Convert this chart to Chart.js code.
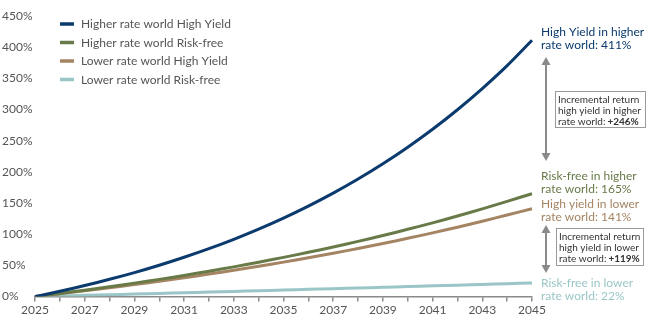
<!DOCTYPE html>
<html>
<head>
<meta charset="utf-8">
<script src="https://cdn.jsdelivr.net/npm/chart.js@4/dist/chart.umd.min.js"></script>
<style>
  html, body { margin: 0; padding: 0; background: #fff; }
  #wrap { width: 650px; height: 324px; }
</style>
</head>
<body>
<div id="wrap"><canvas id="myChart" width="650" height="324"></canvas></div>
<script>
const years = ['2025','2026','2027','2028','2029','2030','2031','2032','2033','2034','2035',
               '2036','2037','2038','2039','2040','2041','2042','2043','2044','2045']
const highYieldHigher = [0, 8.5, 17.7, 27.7, 38.5, 50.3, 63.1, 76.9, 91.9, 108.2, 125.9,
                         145.1, 165.9, 188.5, 213.0, 239.5, 268.3, 299.6, 333.5, 370.3, 411]
const riskFreeHigher = [0, 5, 10.3, 15.8, 21.6, 27.6, 34.0, 40.7, 47.7, 55.1, 62.9,
                        71.0, 79.6, 88.6, 97.9, 107.9, 118.3, 129.2, 140.7, 152.7, 165]
const highYieldLower = [0, 4.5, 9.2, 14.1, 19.3, 24.6, 30.2, 36.1, 42.2, 48.6, 55.3,
                        62.3, 69.6, 77.2, 85.2, 93.5, 102.2, 111.3, 120.9, 130.8, 141]
const riskFreeLower = [0, 1, 2, 3, 4.1, 5.1, 6.2, 7.2, 8.3, 9.4, 10.5,
                       11.6, 12.7, 13.8, 14.9, 16.1, 17.3, 18.4, 19.6, 20.8, 22]
const yTicks = [0, 50, 100, 150, 200, 250, 300, 350, 400, 450]

const NAVY = '#0b3a6e', GREEN = '#687a48', BROWN = '#a58463', TEAL = '#9ac6c7'
const FONT = 'Lato, "Open Sans", sans-serif'

// legend + right-hand annotations
const extras = {
    id: 'extras',
    afterDraw(chart) {
        const c = chart.ctx
        const area = chart.chartArea
        c.save()
        // legend
        chart.data.datasets.forEach((ds, i) => {
            const y = 24 + i * 18.5
            c.strokeStyle = ds.borderColor
            c.lineWidth = 3.5
            c.beginPath(); c.moveTo(60, y); c.lineTo(74, y); c.stroke()
            c.fillStyle = '#555'
            c.font = '12px ' + FONT
            c.textBaseline = 'middle'
            c.fillText(ds.label, 81, y + 0.5)
        })

        const x0 = area.right + 9
        const label = (lines, color, y) => {
            c.fillStyle = color
            c.font = '12px ' + FONT
            c.textBaseline = 'middle'
            lines.forEach((t, k) => c.fillText(t, x0, y + k * 13))
        }
        label(['High Yield in higher', 'rate world: 411%'], NAVY, 32)
        label(['Risk-free in higher', 'rate world: 165%'], GREEN, 176)
        label(['High yield in lower', 'rate world: 141%'], BROWN, 204)
        label(['Risk-free in lower', 'rate world: 22%'], TEAL, 283)

        const arrow = (x, y1, y2) => {
            c.strokeStyle = '#8a8a8a'; c.fillStyle = '#8a8a8a'; c.lineWidth = 2
            c.beginPath(); c.moveTo(x, y1 + 6); c.lineTo(x, y2 - 6); c.stroke()
            c.beginPath(); c.moveTo(x, y1); c.lineTo(x - 4.5, y1 + 8); c.lineTo(x + 4.5, y1 + 8); c.fill()
            c.beginPath(); c.moveTo(x, y2); c.lineTo(x - 4.5, y2 - 8); c.lineTo(x + 4.5, y2 - 8); c.fill()
        }
        arrow(546, 57, 161)
        arrow(546, 225, 273)

        const box = (x, y, w, h, lines, bold) => {
            c.fillStyle = '#fff'
            c.fillRect(x, y, w, h)
            c.strokeStyle = '#9a9a9a'; c.lineWidth = 1
            c.strokeRect(x + 0.5, y + 0.5, w, h)
            c.fillStyle = '#333'
            c.textBaseline = 'middle'
            lines.forEach((t, k) => {
                const ty = y + 9 + k * 10.8
                c.font = '10px ' + FONT
                c.fillText(t, x + 3, ty)
                if (k === lines.length - 1) {
                    const w0 = c.measureText(t).width
                    c.font = 'bold 10px ' + FONT
                    c.fillText(bold, x + 3 + w0 + 2, ty)
                }
            })
        }
        box(555, 91, 90, 36, ['Incremental return', 'high yield in higher', 'rate world:'], '+246%')
        box(556, 228, 87, 37, ['Incremental return', 'high yield in lower', 'rate world:'], '+119%')
        c.restore()
    }
}

const lineSet = (label, data, color) => ({
    label: label, data: data, borderColor: color, backgroundColor: color,
    borderWidth: 3, pointRadius: 0, tension: 0.3, fill: false
})

new Chart(document.getElementById('myChart').getContext('2d'), {
    type: 'line',
    data: {
        labels: years,
        datasets: [
            lineSet('Higher rate world High Yield', highYieldHigher, NAVY),
            lineSet('Higher rate world Risk-free', riskFreeHigher, GREEN),
            lineSet('Lower rate world High Yield', highYieldLower, BROWN),
            lineSet('Lower rate world Risk-free', riskFreeLower, TEAL)
        ]
    },
    options: {
        responsive: false,
        animation: false,
        layout: { padding: { top: 16, right: 118, left: 2, bottom: 6 } },
        plugins: { legend: { display: false }, tooltip: { enabled: false } },
        scales: {
            x: {
                offset: false,
                border: { display: true, color: '#8a8a8a', width: 1.5 },
                grid: { display: true, drawOnChartArea: false, tickLength: 5, color: '#8a8a8a', lineWidth: 1.5 },
                ticks: {
                    autoSkip: false, maxRotation: 0, color: '#555', padding: 1,
                    font: { family: FONT, size: 12 },
                    callback: (v, i) => i % 2 === 0 ? years[i] : ''
                }
            },
            y: {
                min: 0, max: 450,
                afterFit: s => { s.width = 33 },
                afterBuildTicks: s => { s.ticks = yTicks.map(v => ({ value: v })) },
                border: { display: false },
                grid: { display: false },
                ticks: {
                    color: '#555', crossAlign: 'far', padding: 0,
                    font: { family: FONT, size: 12 },
                    callback: v => v + '%'
                }
            }
        }
    },
    plugins: [extras]
})
</script>
</body>
</html>
